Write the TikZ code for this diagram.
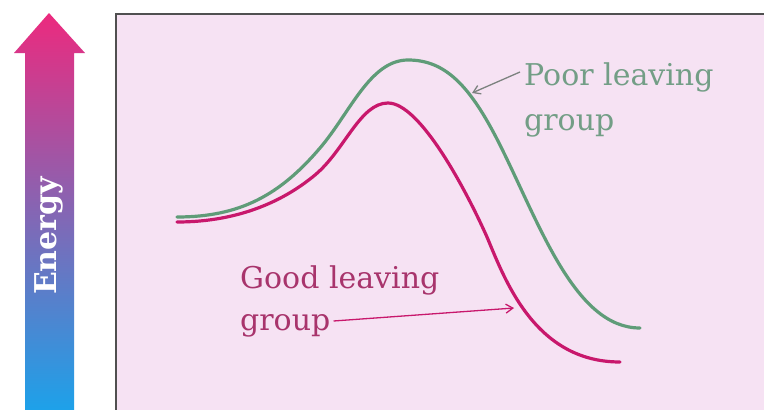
\documentclass[tikz,border=0pt]{standalone}
\usepackage{fontspec}
\setmainfont{DejaVu Serif}
\usetikzlibrary{arrows.meta}
\definecolor{paperpink}{HTML}{F6E2F3}
\definecolor{framegray}{HTML}{505050}
\definecolor{poorgreen}{HTML}{5F9C78}
\definecolor{poortext}{HTML}{739E86}
\definecolor{goodpink}{HTML}{C8186C}
\definecolor{goodtext}{HTML}{A8346C}
\definecolor{energytop}{HTML}{EC2A7E}
\definecolor{energymid}{HTML}{A872C6}
\definecolor{energybot}{HTML}{1CA2EA}

\begin{document}
\begin{tikzpicture}[x=1pt, y=-1pt,
    label/.style={anchor=base west, inner sep=0pt, font=\fontsize{30}{36}\selectfont},
    curve/.style={line width=3.2pt, line cap=round},
    pointer/.style={-{Straight Barb[length=7pt, width=9pt]}, line width=1.3pt}]
    % Page and frame
    \useasboundingbox (0,0) rectangle (764,410);
    \fill[white] (0,0) rectangle (764,410);
    \fill[paperpink] (116,14) rectangle (770,416);
    \draw[framegray, line width=2.2pt] (770,14) -- (116,14) -- (116,416);
    % Energy arrow
    \shade[top color=energytop, middle color=energymid, bottom color=energybot]
        (25,412) -- (25,53) -- (14,53) -- (49,13) -- (85,53) -- (74,53) -- (74,412) -- cycle;
    \node[rotate=90, text=white, font=\fontsize{30}{34}\selectfont\bfseries] (energy) at (49,236) {Energy};
    % Profiles
    \draw[poorgreen, curve] (177,217) .. controls (240,217) and (280,195) .. (320,148)
        .. controls (350,113) and (370,60) .. (408,60)
        .. controls (445,60) and (470,85) .. (500,145)
        .. controls (540,225) and (575,328) .. (640,328);
    \draw[goodpink, curve] (177,222) .. controls (240,222) and (285,200) .. (315,175)
        .. controls (345,150) and (360,103) .. (388,103)
        .. controls (420,103) and (466,190) .. (487,237)
        .. controls (505,280) and (535,362) .. (620,362);
    % Labels
    \node[label, text=poortext] (poor1) at (524,85) {Poor leaving};
    \node[label, text=poortext] (poor2) at (524,130) {group};
    \node[label, text=goodtext] (good1) at (240,288) {Good leaving};
    \node[label, text=goodtext] (good2) at (240,330) {group};
    \coordinate (poortip) at (472,93);
    \coordinate (goodtip) at (514,308);
    \draw[pointer, gray!90!poorgreen] ([xshift=-4pt, yshift=13pt]poor1.base west) -- (poortip);
    \draw[pointer, goodpink] ([xshift=3pt, yshift=9pt]good2.base east) -- (goodtip);
\end{tikzpicture}
\end{document}
